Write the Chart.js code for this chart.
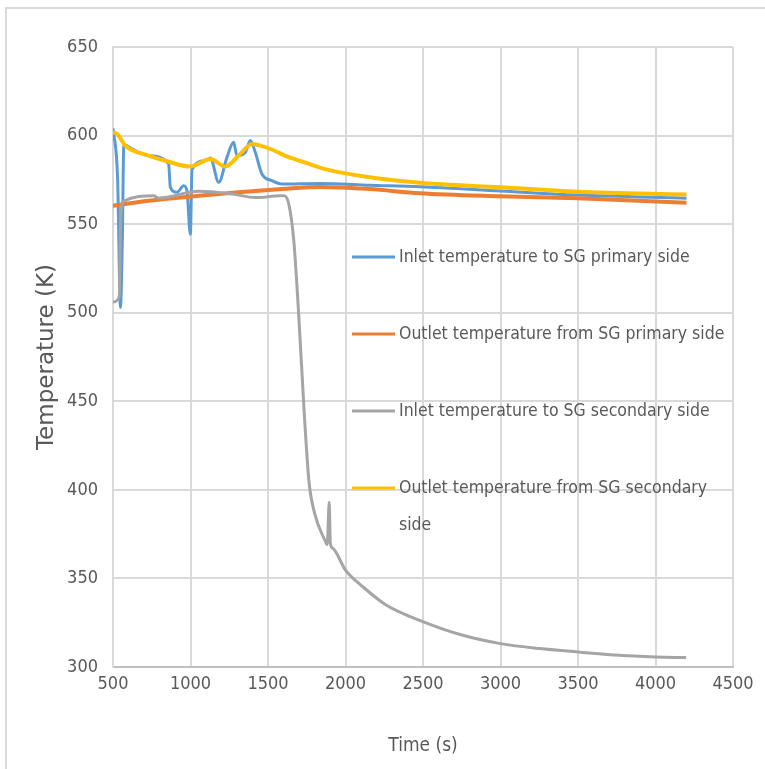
<!DOCTYPE html>
<html>
<head>
<meta charset="utf-8">
<script src="https://cdn.jsdelivr.net/npm/chart.js@4/dist/chart.umd.min.js"></script>
<style>
  html, body { margin: 0; padding: 0; background: #fff; overflow: hidden; }
  canvas { display: block; }
</style>
</head>
<body>
<canvas id="chart" width="765" height="769"></canvas>
<script>
// --- Data ---
const SERIES_LABELS = [
  'Inlet temperature to SG primary side',
  'Outlet temperature from SG primary side',
  'Inlet temperature to SG secondary side',
  'Outlet temperature from SG secondary side',
];

const inletPrimaryTime = [500, 530, 548, 560, 570, 623, 730, 859, 870, 913, 956, 977, 999, 1010, 1096, 1128, 1182, 1235, 1278, 1300, 1354, 1386, 1418, 1461, 1526, 1590, 1831, 2156, 2480, 3000, 3500, 4200];
const inletPrimaryTemp = [604, 575, 503, 540, 595, 592.5, 588.7, 584, 570.8, 568, 571.7, 568.9, 544.3, 581, 585.8, 587.4, 573.6, 587.7, 596.2, 588.7, 590.6, 597.2, 590.6, 578.3, 574.5, 572.6, 573, 572, 571.1, 568.7, 566.4, 564.6];

const outletPrimaryTime = [500, 730, 1053, 1311, 1590, 1831, 2156, 2480, 3000, 3500, 4200];
const outletPrimaryTemp = [560.4, 563.2, 566, 568, 569.8, 571, 569.8, 567.4, 565.7, 564.6, 562.1];

const inletSecondaryTime = [500, 540, 550, 570, 762, 795, 1053, 1268, 1418, 1580, 1605, 1635, 1667, 1700, 1732, 1764, 1800, 1870, 1882, 1895, 1902, 1918, 2000, 2112, 2262, 2503, 2757, 3000, 3252, 3501, 3768, 4000, 4198];
const inletSecondaryTemp = [506, 509, 555, 563, 566, 564.7, 568.5, 567, 565, 566, 566, 561, 540, 496, 446, 405, 387, 371, 369, 393, 370, 367, 354.7, 345.3, 335, 325.5, 317.9, 313.2, 310.4, 308.5, 306.6, 305.7, 305.3];

const outletSecondaryTime = [500, 526, 580, 730, 838, 999, 1128, 1225, 1311, 1397, 1440, 1528, 1612, 1723, 1830, 1896, 2156, 2480, 3000, 3500, 4200];
const outletSecondaryTemp = [601.9, 601, 594.3, 588.7, 585.8, 582.5, 586.8, 582.5, 588.7, 595.3, 594.6, 592, 588.5, 585.3, 582, 580.5, 576.5, 573.4, 570.8, 568.3, 566.8];

const X_MIN = 500, X_MAX = 4500, X_STEP = 500;
const Y_MIN = 300, Y_MAX = 650, Y_STEP = 50;

// --- Styling ---
const COLORS = ['#5b9bd5', '#ed7d31', '#a5a5a5', '#ffc000'];
const WIDTHS = [3, 4, 3, 4];
const DRAW_ORDER = [3, 2, 1, 0]; // yellow on top, like the original
const TEXT_COLOR = '#595959';
const GRID_COLOR = '#d9d9d9';
const NARROW = '"DejaVu Sans Condensed", "Liberation Sans Narrow", sans-serif';

function toPoints(xs, ys) {
  return xs.map((x, i) => ({ x, y: ys[i] }));
}

const seriesPoints = [
  toPoints(inletPrimaryTime, inletPrimaryTemp),
  toPoints(outletPrimaryTime, outletPrimaryTemp),
  toPoints(inletSecondaryTime, inletSecondaryTemp),
  toPoints(outletSecondaryTime, outletSecondaryTemp),
];

// --- Outer chart frame (only left and top edges are visible in the reference) ---
const frame = {
  id: 'frame',
  beforeDraw(chart) {
    const ctx = chart.ctx;
    ctx.save();
    ctx.strokeStyle = GRID_COLOR;
    ctx.lineWidth = 2;
    ctx.beginPath();
    ctx.moveTo(6, chart.height);
    ctx.lineTo(6, 8);
    ctx.lineTo(chart.width, 8);
    ctx.stroke();
    ctx.restore();
  },
};

// --- Legend drawn inside the plot, as in the reference ---
const inlineLegend = {
  id: 'inlineLegend',
  afterDatasetsDraw(chart) {
    const ctx = chart.ctx;
    const lineX0 = 352, lineX1 = 395, textX = 399;
    const firstY = 257, gap = 77, lineHeight = 37, maxWidth = 340;
    ctx.save();
    ctx.font = '17.5px ' + NARROW;
    ctx.textBaseline = 'middle';
    ctx.textAlign = 'left';
    chart.data.datasets.forEach((ds, i) => {
      const y = firstY + i * gap;
      ctx.strokeStyle = ds.borderColor;
      ctx.lineWidth = 3;
      ctx.beginPath();
      ctx.moveTo(lineX0, y);
      ctx.lineTo(lineX1, y);
      ctx.stroke();

      // simple word wrap
      const words = ds.label.split(' ');
      const lines = [];
      let cur = '';
      words.forEach((w) => {
        const test = cur ? cur + ' ' + w : w;
        if (cur && ctx.measureText(test).width > maxWidth) {
          lines.push(cur);
          cur = w;
        } else {
          cur = test;
        }
      });
      lines.push(cur);
      ctx.fillStyle = TEXT_COLOR;
      lines.forEach((line, j) => ctx.fillText(line, textX, y + j * lineHeight));
    });
    ctx.restore();
  },
};

const chart = new Chart(document.getElementById('chart'), {
  type: 'line',
  data: {
    datasets: seriesPoints.map((pts, i) => ({
      label: SERIES_LABELS[i],
      data: pts,
      borderColor: COLORS[i],
      backgroundColor: COLORS[i],
      borderWidth: WIDTHS[i],
      pointRadius: 0,
      fill: false,
      cubicInterpolationMode: 'monotone',
      order: DRAW_ORDER[i],
    })),
  },
  options: {
    responsive: false,
    animation: false,
    layout: { padding: { top: 47, right: 32, left: 0, bottom: 0 } },
    plugins: {
      legend: { display: false },
      tooltip: { enabled: false },
    },
    scales: {
      x: {
        type: 'linear',
        min: X_MIN,
        max: X_MAX,
        afterFit: (scale) => { scale.height = 102; },
        ticks: {
          stepSize: X_STEP,
          padding: 7,
          color: TEXT_COLOR,
          font: { family: NARROW, size: 18 },
          maxRotation: 0,
          callback: (v) => String(v),
        },
        grid: { color: GRID_COLOR, lineWidth: 2, drawTicks: false },
        border: { color: '#bfbfbf', width: 2 },
        title: {
          display: true,
          text: 'Time (s)',
          color: TEXT_COLOR,
          font: { family: NARROW, size: 19 },
          padding: { top: 0, bottom: 12 },
        },
      },
      y: {
        type: 'linear',
        min: Y_MIN,
        max: Y_MAX,
        afterFit: (scale) => { scale.width = 113; },
        ticks: {
          stepSize: Y_STEP,
          padding: 15,
          color: TEXT_COLOR,
          font: { family: NARROW, size: 18 },
          callback: (v) => String(v),
        },
        grid: { color: GRID_COLOR, lineWidth: 2, drawTicks: false },
        border: { color: GRID_COLOR, width: 2 },
        title: {
          display: true,
          text: 'Temperature (K)',
          color: TEXT_COLOR,
          font: { family: '"DejaVu Sans", sans-serif', size: 23 },
          padding: { top: 33, bottom: 0 },
        },
      },
    },
  },
  plugins: [frame, inlineLegend],
});
</script>
</body>
</html>
